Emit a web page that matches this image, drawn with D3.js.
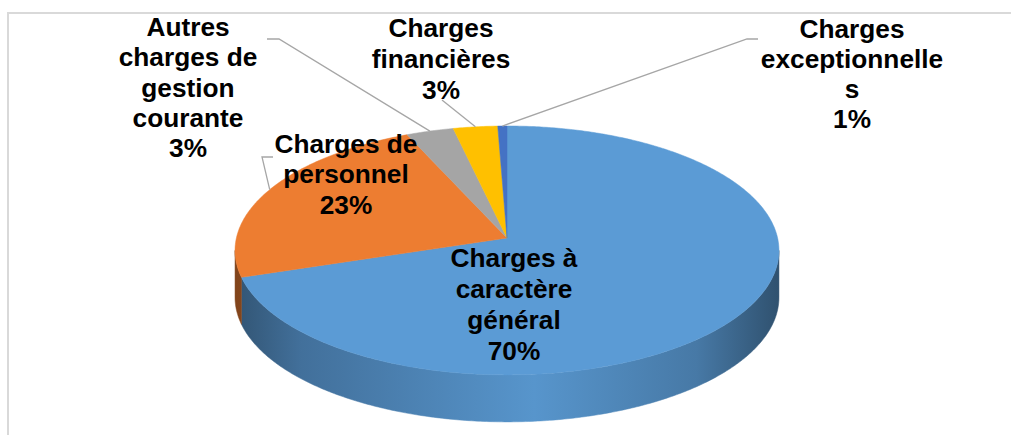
<!DOCTYPE html>
<html>
<head>
<meta charset="utf-8">
<script src="https://cdn.jsdelivr.net/npm/d3@7"></script>
<style>
  html, body { margin: 0; padding: 0; background: #fff; }
  svg { display: block; }
  .lbl { font-family: "Liberation Sans", Arial, sans-serif; font-weight: bold; font-size: 25px; fill: #000; }
</style>
</head>
<body>
<svg id="chart" width="1011" height="435"></svg>
<script>
const categories = ["Charges à caractère général", "Charges de personnel", "Autres charges de gestion courante", "Charges financières", "Charges exceptionnelles"];
const values = [70.0, 23.4, 3.1, 2.9, 0.6];
const colors = ["#5b9bd5", "#ed7d31", "#a5a5a5", "#ffc000", "#4472c4"];
// how each name is wrapped in the picture
const labelLines = [
  ["Charges à", "caractère", "général"],
  ["Charges de", "personnel"],
  ["Autres", "charges de", "gestion", "courante"],
  ["Charges", "financières"],
  ["Charges", "exceptionnelle", "s"]
];

// layout (not data)
const cx = 507, cy = 238, A = 270.6, B = 123.2, k = 0.1, depth = 47;
const labelPos = [
  {x: 514, y: 267, lh: 31},
  {x: 346, y: 153, lh: 30.5},
  {x: 188, y: 36, lh: 30.3},
  {x: 441, y: 37, lh: 31},
  {x: 852, y: 38, lh: 30}
];
const leaderStart = [
  null,
  [[273, 157], [262, 157]],
  [[267, 39], [279, 39]],
  [[442, 100]],
  [[758, 39], [747, 39]]
];

const svg = d3.select('#chart');

// frame
svg.append('rect').attr('x', 8).attr('y', 13).attr('width', 1100).attr('height', 500)
  .attr('fill', 'none').attr('stroke', '#d9d9d9').attr('stroke-width', 2);

// perspective projection of the unit circle, angle as d3.pie gives it
function project(a, dy = 0) {
  const u = Math.sin(a), v = -Math.cos(a);
  const w = 1 - k * v;
  return [cx + A * u / w, cy + B * v / w + dy];
}
function arcPoints(a0, a1, dy = 0) {
  const n = Math.max(2, Math.ceil((a1 - a0) / 0.01));
  return d3.range(n + 1).map(i => project(a0 + (a1 - a0) * i / n, dy));
}

const arcs = d3.pie().sort(null).value(d => d)(values);
const line = d3.line().curve(d3.curveLinearClosed);

// side gradients
const defs = svg.append('defs');
const gStops = [[0, 1.7], [0.12, 0.9], [0.55, 0.12], [0.85, 0.7], [1, 1.8]];
colors.forEach((c, i) => {
  const g = defs.append('linearGradient').attr('id', 'side' + i)
    .attr('gradientUnits', 'userSpaceOnUse')
    .attr('x1', cx - A).attr('x2', cx + A).attr('y1', 0).attr('y2', 0);
  gStops.forEach(s => g.append('stop').attr('offset', s[0]).attr('stop-color', d3.color(c).darker(s[1]).formatHex()));
});

// visible front side range
const aR = Math.acos(-k), aL = 2 * Math.PI - aR;
const sideG = svg.append('g');
arcs.forEach((d, i) => {
  const a0 = Math.max(d.startAngle, aR), a1 = Math.min(d.endAngle, aL);
  if (a0 >= a1) return;
  const top = arcPoints(a0, a1);
  const bot = arcPoints(a0, a1, depth).reverse();
  sideG.append('path').attr('d', line(top.concat(bot))).attr('fill', `url(#side${i})`)
    .attr('stroke', `url(#side${i})`).attr('stroke-width', 0.5);
});

// top face
const topG = svg.append('g');
arcs.forEach((d, i) => {
  const pts = [[cx, cy]].concat(arcPoints(d.startAngle, d.endAngle));
  topG.append('path').attr('d', line(pts)).attr('fill', colors[i])
    .attr('stroke', colors[i]).attr('stroke-width', 0.5);
});

// leader lines
const pathLine = d3.line();
arcs.forEach((d, i) => {
  if (!leaderStart[i]) return;
  const mid = (d.startAngle + d.endAngle) / 2;
  const pts = leaderStart[i].concat([project(mid)]);
  svg.append('path').attr('d', pathLine(pts)).attr('fill', 'none')
    .attr('stroke', '#a6a6a6').attr('stroke-width', 1.3);
});

// labels
const total = d3.sum(values);
const pct = d3.format('.0%');
labelLines.forEach((lines, i) => {
  const p = labelPos[i];
  const all = lines.concat([pct(values[i] / total)]);
  const g = svg.append('g').attr('transform', `translate(${p.x},0) scale(1.05,1)`);
  const t = g.append('text').attr('class', 'lbl').attr('text-anchor', 'middle');
  all.forEach((s, j) => t.append('tspan').attr('x', 0).attr('y', p.y + j * p.lh).text(s));
});
</script>
</body>
</html>
